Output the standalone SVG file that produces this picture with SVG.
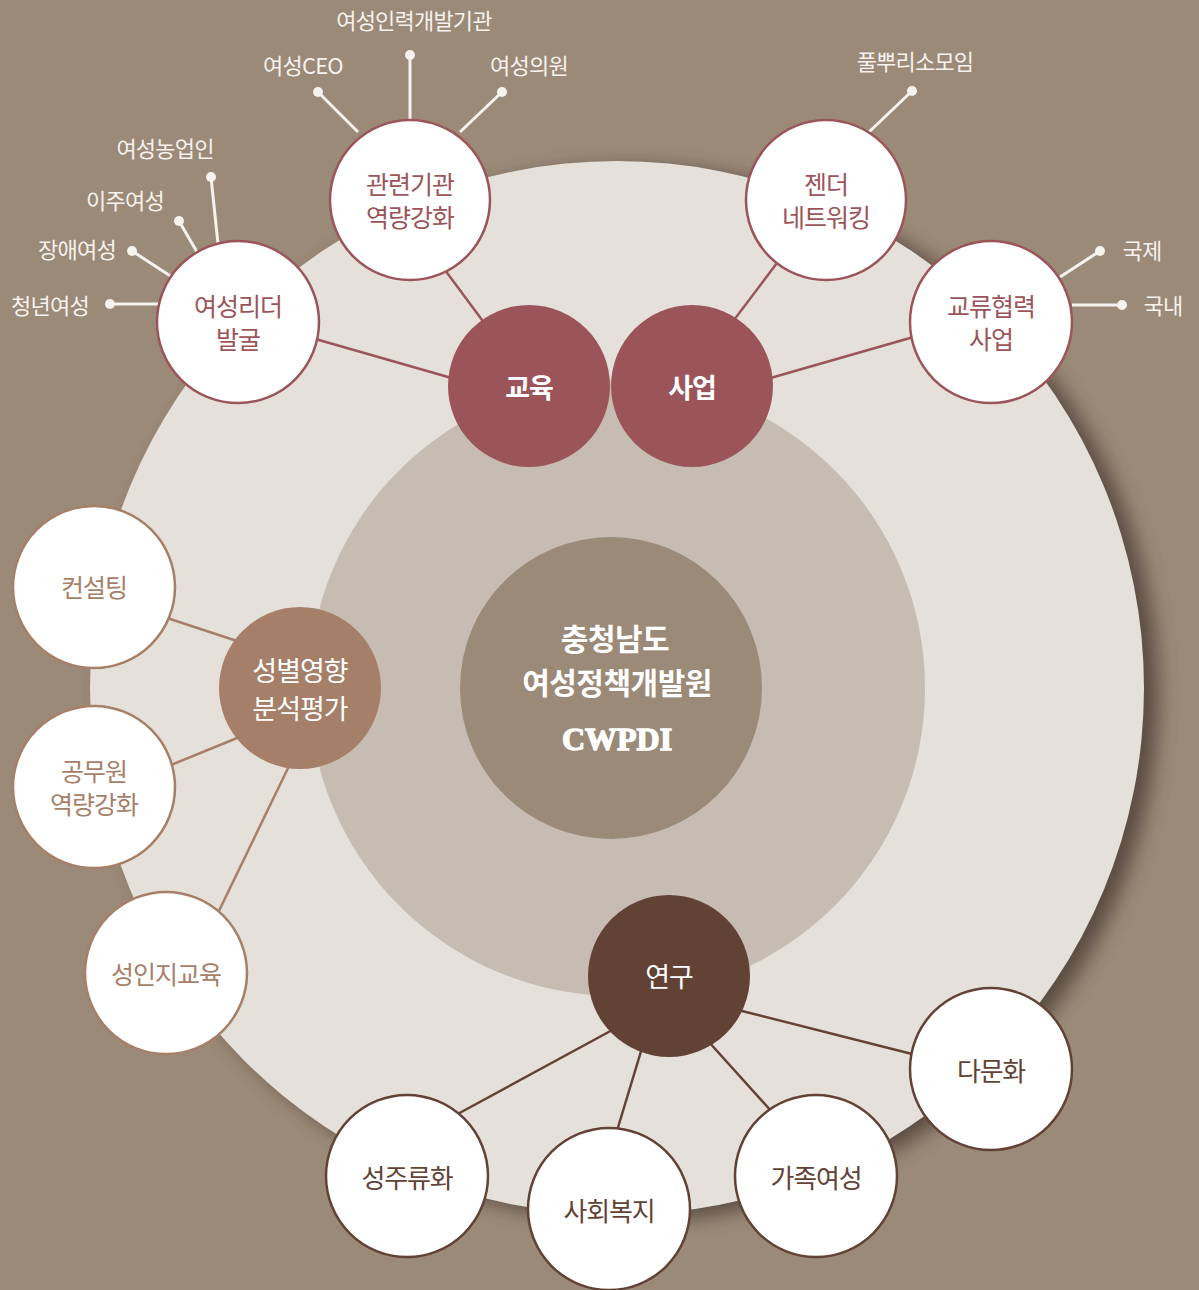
<svg xmlns="http://www.w3.org/2000/svg" width="1199" height="1290" viewBox="0 0 1199 1290">
<defs>
<filter id="sh" x="-10%" y="-10%" width="120%" height="120%">
<feGaussianBlur stdDeviation="10"/>
</filter>
<style>
text{font-family:"Noto Sans CJK KR","Noto Sans",sans-serif;text-anchor:middle;dominant-baseline:central;}
.lbl{fill:#f6f2ee;font-size:22px;letter-spacing:-0.8px;}
.spoke{stroke:#f6f2ee;stroke-width:3;fill:none;}
.dot{fill:#f6f2ee;}
.red{fill:#fff;stroke:#9b555a;stroke-width:2.5;}
.tan{fill:#fff;stroke:#a67f69;stroke-width:2.5;}
.brn{fill:#fff;stroke:#634236;stroke-width:2.5;}
.tred{fill:#9b555a;font-size:25px;letter-spacing:-1px;}
.ttan{fill:#a67f69;font-size:25px;letter-spacing:-1px;}
.tbrn{fill:#634236;font-size:26px;letter-spacing:-1.2px;}
.hub{fill:#fff;font-size:27px;font-weight:bold;letter-spacing:-1px;}
.hubn{fill:#fff;font-size:27px;letter-spacing:-1px;}
.c-red{stroke:#9b555a;stroke-width:2.5;}
.c-tan{stroke:#a67f69;stroke-width:2.5;}
.c-brn{stroke:#634236;stroke-width:2.5;}
</style>
</defs>
<rect width="1199" height="1290" fill="#9b8a78"/>
<circle cx="631" cy="694" r="527" fill="#4e4137" opacity="0.85" filter="url(#sh)"/>
<circle cx="617" cy="688" r="527" fill="#e5e0da"/>
<circle cx="617" cy="688" r="308" fill="#c6bcb2"/>
<g id="center">
<circle cx="611" cy="688" r="151" fill="#9b8a78"/>
<text x="615" y="637" fill="#fff" font-size="30" font-weight="bold" letter-spacing="-0.5">충청남도</text>
<text x="617" y="681" fill="#fff" font-size="30" font-weight="bold" letter-spacing="-0.5">여성정책개발원</text>
<text x="617" y="739" fill="#fff" stroke="#fff" stroke-width="1.3" font-size="32" font-weight="900" style="font-family:'Liberation Serif',serif" letter-spacing="0">CWPDI</text>
</g>
<g id="spokes">
<line class="spoke" x1="410" y1="120" x2="410" y2="55"/><circle class="dot" cx="410" cy="55" r="5"/>
<line class="spoke" x1="358" y1="132" x2="318" y2="92"/><circle class="dot" cx="318" cy="92" r="5"/>
<line class="spoke" x1="460" y1="132" x2="502" y2="92"/><circle class="dot" cx="502" cy="92" r="5"/>
<line class="spoke" x1="218" y1="244" x2="211" y2="177"/><circle class="dot" cx="211" cy="177" r="5"/>
<line class="spoke" x1="197" y1="252" x2="179" y2="221"/><circle class="dot" cx="179" cy="221" r="5"/>
<line class="spoke" x1="172" y1="277" x2="132" y2="251"/><circle class="dot" cx="132" cy="251" r="5"/>
<line class="spoke" x1="160" y1="304" x2="110" y2="304"/><circle class="dot" cx="110" cy="304" r="5"/>
<line class="spoke" x1="869" y1="132" x2="912" y2="91"/><circle class="dot" cx="912" cy="91" r="5"/>
<line class="spoke" x1="1060" y1="277" x2="1100" y2="251"/><circle class="dot" cx="1100" cy="251" r="5"/>
<line class="spoke" x1="1072" y1="305" x2="1122" y2="305"/><circle class="dot" cx="1122" cy="305" r="5"/>
<text class="lbl" x="414" y="19">여성인력개발기관</text>
<text class="lbl" x="303" y="64">여성CEO</text>
<text class="lbl" x="529" y="64">여성의원</text>
<text class="lbl" x="165" y="147">여성농업인</text>
<text class="lbl" x="125" y="199">이주여성</text>
<text class="lbl" x="77" y="248">장애여성</text>
<text class="lbl" x="50" y="304">청년여성</text>
<text class="lbl" x="915" y="60">풀뿌리소모임</text>
<text class="lbl" x="1142" y="249">국제</text>
<text class="lbl" x="1163" y="304">국내</text>
</g>
<g id="connectors">
<line class="c-red" x1="488" y1="328" x2="442" y2="266"/>
<line class="c-red" x1="455" y1="379" x2="312" y2="338"/>
<line class="c-red" x1="731" y1="324" x2="780" y2="259"/>
<line class="c-red" x1="767" y1="379" x2="917" y2="336"/>
<line class="c-tan" x1="240" y1="642" x2="164" y2="617"/>
<line class="c-tan" x1="242" y1="736" x2="166" y2="767"/>
<line class="c-tan" x1="290" y1="764" x2="216" y2="917"/>
<line class="c-brn" x1="738" y1="1010" x2="916" y2="1055"/>
<line class="c-brn" x1="616" y1="1028" x2="454" y2="1116"/>
<line class="c-brn" x1="642" y1="1048" x2="616" y2="1134"/>
<line class="c-brn" x1="708" y1="1041" x2="773" y2="1113"/>
</g>
<g id="edu"><circle cx="529" cy="386" r="81" fill="#9b555a"/><text class="hub" x="529" y="386">교육</text></g>
<g id="biz"><circle cx="692" cy="386" r="81" fill="#9b555a"/><text class="hub" x="692" y="386">사업</text></g>
<g id="gia"><circle class="red" cx="410" cy="200" r="80"/><text class="tred" x="410" y="183">관련기관</text><text class="tred" x="410" y="216">역량강화</text></g>
<g id="leader"><circle class="red" cx="238" cy="322" r="81"/><text class="tred" x="238" y="305">여성리더</text><text class="tred" x="238" y="338">발굴</text></g>
<g id="gender"><circle class="red" cx="826" cy="200" r="80"/><text class="tred" x="826" y="183">젠더</text><text class="tred" x="826" y="216">네트워킹</text></g>
<g id="exchange"><circle class="red" cx="991" cy="322" r="81"/><text class="tred" x="991" y="305">교류협력</text><text class="tred" x="991" y="338">사업</text></g>
<g id="gia2"><circle cx="300" cy="688" r="81" fill="#a67f69"/><text class="hubn" x="300" y="669">성별영향</text><text class="hubn" x="300" y="707">분석평가</text></g>
<g id="consult"><circle class="tan" cx="94" cy="587" r="81"/><text class="ttan" x="94" y="586">컨설팅</text></g>
<g id="official"><circle class="tan" cx="94" cy="787" r="81"/><text class="ttan" x="94" y="770">공무원</text><text class="ttan" x="94" y="803">역량강화</text></g>
<g id="genderedu"><circle class="tan" cx="166" cy="973" r="81"/><text class="ttan" x="166" y="973">성인지교육</text></g>
<g id="research"><circle cx="669" cy="976" r="81" fill="#634236"/><text class="hubn" x="669" y="975">연구</text></g>
<g id="multi"><circle class="brn" cx="991" cy="1069" r="81"/><text class="tbrn" x="991" y="1069">다문화</text></g>
<g id="mainstream"><circle class="brn" cx="407" cy="1176" r="81"/><text class="tbrn" x="407" y="1176">성주류화</text></g>
<g id="welfare"><circle class="brn" cx="609" cy="1209" r="81"/><text class="tbrn" x="609" y="1209">사회복지</text></g>
<g id="family"><circle class="brn" cx="816" cy="1176" r="81"/><text class="tbrn" x="816" y="1176">가족여성</text></g>
</svg>
